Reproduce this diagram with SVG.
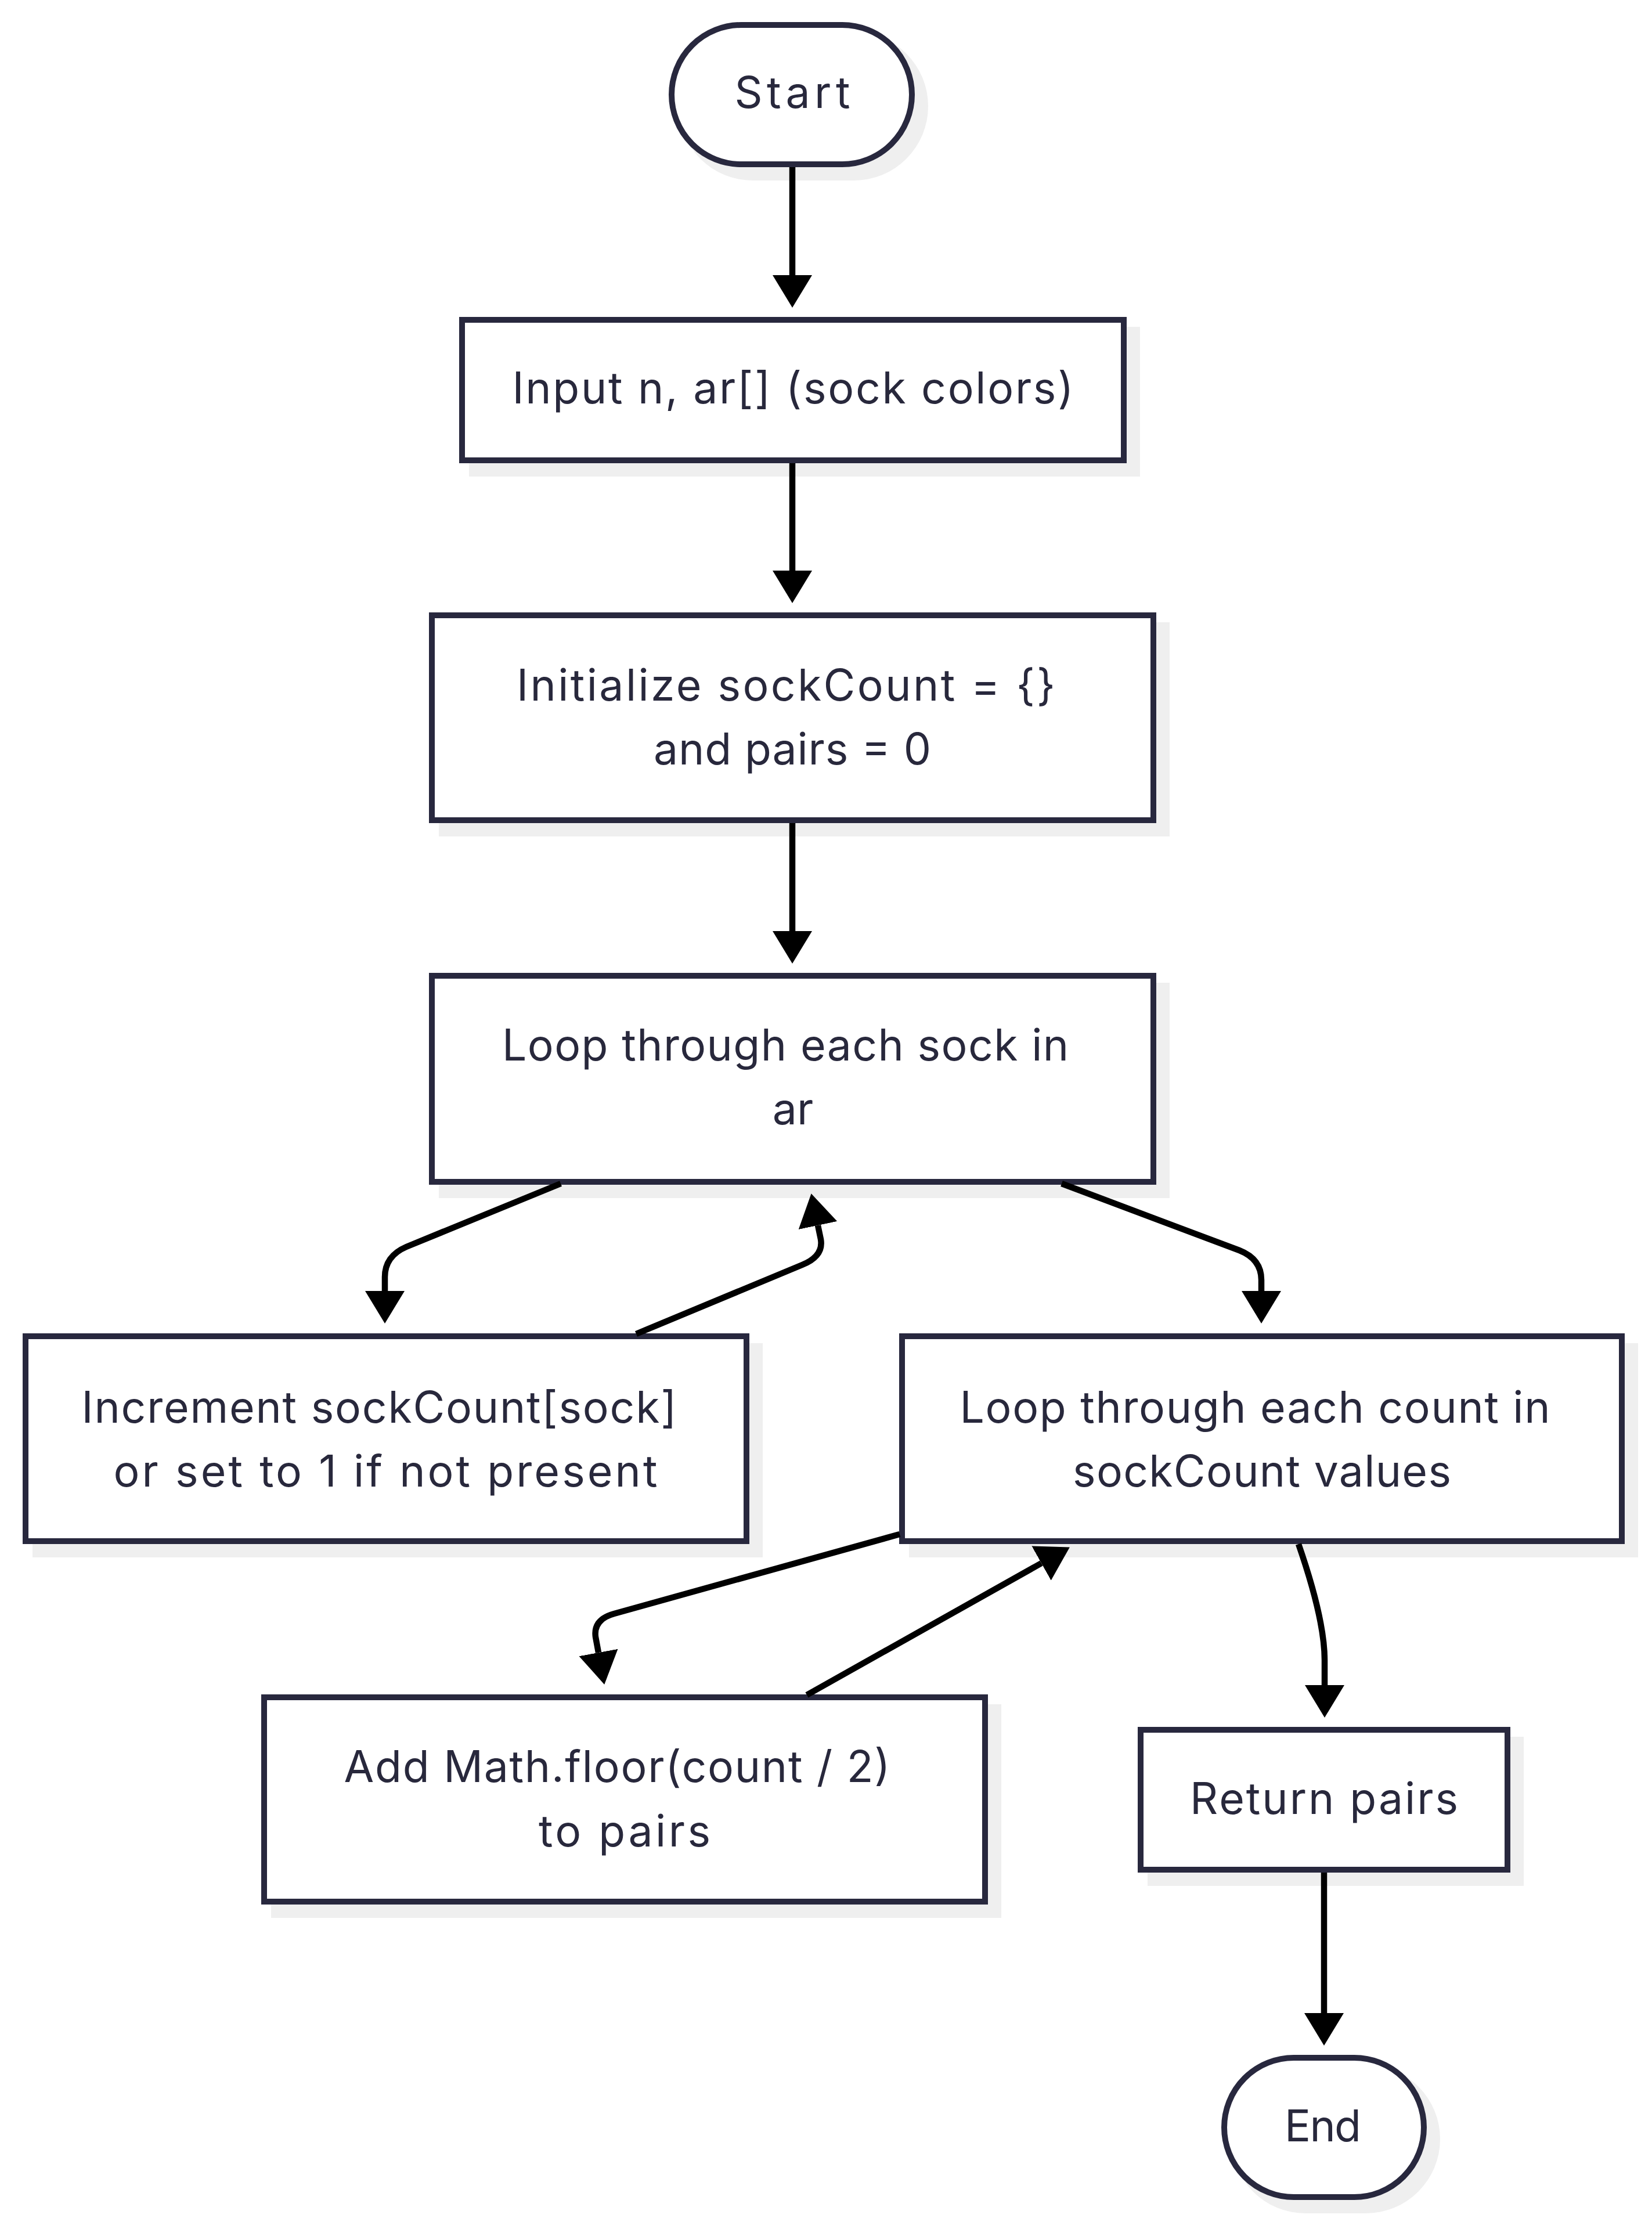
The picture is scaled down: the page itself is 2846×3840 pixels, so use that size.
<svg xmlns="http://www.w3.org/2000/svg" width="2846" height="3840" viewBox="0 0 2846 3840">
<style>
.sh{fill:#efefef;stroke:none}
.nd{fill:#ffffff;stroke:#28283e;stroke-width:10}
.tx{font-family:Inter,"Noto Sans","Liberation Sans",sans-serif;font-size:75px;fill:#28283c;text-anchor:middle}
.ed{fill:none;stroke:#000000;stroke-width:10.5;marker-end:url(#ah)}
</style>
<defs>
<marker id="ah" markerUnits="userSpaceOnUse" markerWidth="56" markerHeight="68" viewBox="0 0 56 68" refX="0" refY="34" orient="auto">
<path d="M0,0 L56,34 L0,68 z" fill="#000000"/>
</marker>
</defs>
<rect width="2846" height="3840" fill="#ffffff"/>
<g id="start">
<rect class="sh" x="1169" y="55" width="430" height="256" rx="128"/>
<rect class="nd" x="1157" y="43" width="414" height="240" rx="120"/>
<text class="tx" x="1365" y="186" textLength="199" lengthAdjust="spacing">Start</text>
</g>
<g id="input">
<rect class="sh" x="808" y="563" width="1156" height="258"/>
<rect class="nd" x="796" y="551" width="1140" height="242"/>
<text class="tx" x="1366" y="695" textLength="967" lengthAdjust="spacing">Input n, ar[] (sock colors)</text>
</g>
<g id="init">
<rect class="sh" x="756" y="1072" width="1259" height="369"/>
<rect class="nd" x="744" y="1060" width="1243" height="353"/>
<text class="tx" x="1354" y="1207" textLength="928" lengthAdjust="spacing">Initialize sockCount = {}</text>
<text class="tx" x="1365" y="1317" textLength="478" lengthAdjust="spacing">and pairs = 0</text>
</g>
<g id="loop">
<rect class="sh" x="756" y="1693" width="1259" height="371"/>
<rect class="nd" x="744" y="1681" width="1243" height="355"/>
<text class="tx" x="1353" y="1827" textLength="976" lengthAdjust="spacing">Loop through each sock in</text>
<text class="tx" x="1366" y="1937" font-size="78">ar</text>
</g>
<g id="increment">
<rect class="sh" x="56" y="2314" width="1258" height="369"/>
<rect class="nd" x="44" y="2302" width="1242" height="353"/>
<text class="tx" x="653" y="2451" textLength="1025" lengthAdjust="spacing">Increment sockCount[sock]</text>
<text class="tx" x="664" y="2561" textLength="937" lengthAdjust="spacing">or set to 1 if not present</text>
</g>
<g id="loopcount">
<rect class="sh" x="1566" y="2314" width="1256" height="369"/>
<rect class="nd" x="1554" y="2302" width="1240" height="353"/>
<text class="tx" x="2162" y="2451" textLength="1017" lengthAdjust="spacing">Loop through each count in</text>
<text class="tx" x="2174" y="2561" textLength="652" lengthAdjust="spacing">sockCount values</text>
</g>
<g id="add">
<rect class="sh" x="467" y="2936" width="1258" height="368"/>
<rect class="nd" x="455" y="2924" width="1242" height="352"/>
<text class="tx" x="1063" y="3070" textLength="941" lengthAdjust="spacing">Add Math.floor(count / 2)</text>
<text class="tx" x="1076" y="3181" textLength="296" lengthAdjust="spacing">to pairs</text>
</g>
<g id="return">
<rect class="sh" x="1977" y="2992" width="648" height="257"/>
<rect class="nd" x="1965" y="2980" width="632" height="241"/>
<text class="tx" x="2281" y="3125" textLength="462" lengthAdjust="spacing">Return pairs</text>
</g>
<g id="end">
<rect class="sh" x="2121" y="3557" width="360" height="256" rx="128"/>
<rect class="nd" x="2109" y="3545" width="344" height="240" rx="120"/>
<text class="tx" x="2279" y="3689" textLength="132" lengthAdjust="spacing">End</text>
</g>
<g id="edges">
<path class="ed" d="M1365 288 L1365 474"/>
<path class="ed" d="M1365 798 L1365 983"/>
<path class="ed" d="M1365 1418 L1365 1604"/>
<path class="ed" d="M966 2039 L700 2148 Q663 2164 663 2200 L663 2224"/>
<path class="ed" d="M1096 2298 L1382 2179 Q1419 2164 1414 2135 L1409 2111"/>
<path class="ed" d="M1829 2039 L2135 2154 Q2173 2169 2173 2205 L2173 2224"/>
<path class="ed" d="M1550 2643 L1058 2780 Q1022 2790 1026 2820 L1031 2847"/>
<path class="ed" d="M1390 2920 L1794 2693"/>
<path class="ed" d="M2237 2660 Q2282 2790 2282 2860 L2282 2903"/>
<path class="ed" d="M2281 3226 L2281 3468"/>
</g>
</svg>
